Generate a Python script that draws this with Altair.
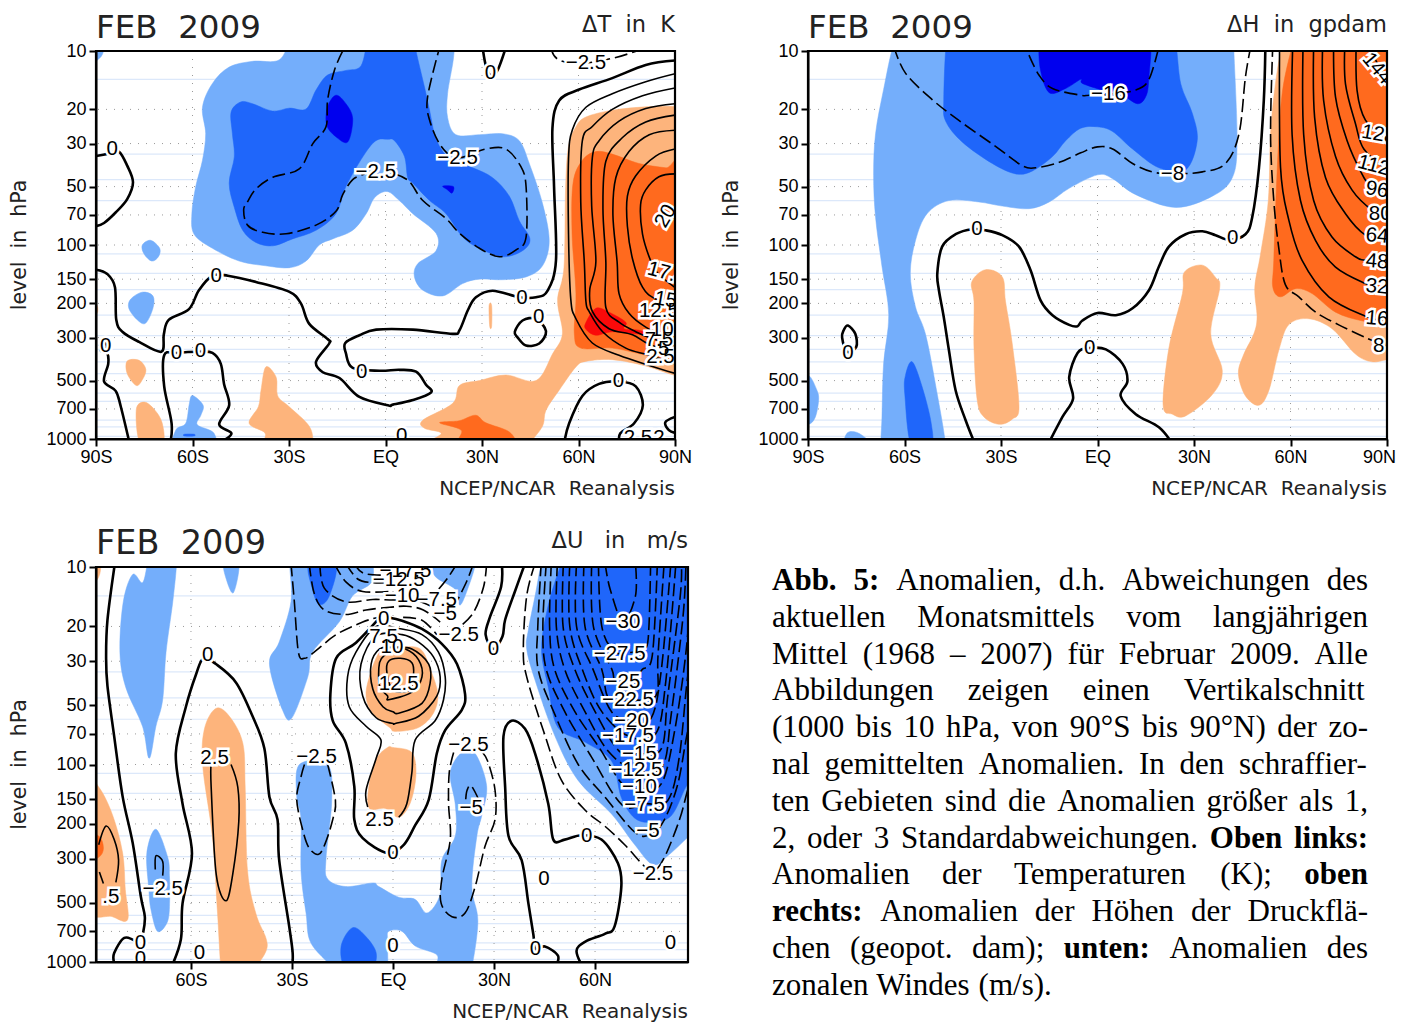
import altair as alt
import pandas as pd

LEVELS = [10, 20, 30, 50, 70, 100, 150, 200, 300, 500, 700, 1000]
PALE_LEVELS = [14, 34, 46, 59, 111, 140, 170, 230, 293, 345, 400, 460, 580, 640, 800, 865, 970]
LAT_TICKS = [-90, -60, -30, 0, 30, 60, 90]
LAT_TICKS_U = [-60, -30, 0, 30, 60]
LB, MB, DB = "#74AEFB", "#1F66FA", "#0000EE"
LO, MO, RD = "#FDB47C", "#FF6A1E", "#FA0A0A"

# ---------- Delta T ----------
T_LB = [
 [(-29.5,8.5),(-33,11.1),(-41.3,11.3),(-48.6,12.1),(-53.8,14.7),(-56.9,19.5),(-55.9,26.7),(-56.9,36.6),(-59,50),(-60.2,69),(-59.5,88),(-53.8,104),(-45.5,121),(-37.2,128),(-29.9,131),(-24.7,121),(-20.6,100),(-16.4,93),(-10.2,84),(-6,69),(-3.4,57),(0.5,53),(4.3,59),(8.5,69),(15.7,87),(15.7,107),(10,125),(9,146),(11.6,171),(17.8,183),(24,158),(29.2,150),(36.4,151),(43.7,146),(48.8,128),(50.9,95),(48.8,61),(44.7,38),(41.6,29),(36.4,26.7),(29.2,27),(21.9,27),(19.3,22),(19.3,16.6),(21.1,11),(21.4,8.5),(20,7.8),(-28,7.8)],
 [(-73,94.6),(-70.2,104),(-70.6,115),(-72.7,121),(-75.1,111),(-75.6,100)],
 [(-75.6,175),(-72.3,183),(-72.3,212),(-74.6,253),(-77.2,243),(-79.8,212),(-79.2,190)],
 [(-60,597),(-56.7,670),(-57.4,755),(-58.5,845),(-53.3,935),(-53.8,1150),(-65.7,1150),(-65.2,900),(-62.1,830),(-61,660)],
 [(-92,9),(-87.6,9),(-88,10.4),(-90,11.3),(-92,12)],
]
T_MB = [
 [(-5.5,8.5),(-7.6,11.9),(-12.3,12.6),(-18,13.3),(-21.6,15.9),(-24.7,19.9),(-29.9,19.7),(-35.1,20.4),(-41.3,18.7),(-45,18.3),(-48,20.6),(-47.6,26.7),(-47,35),(-48.6,48),(-47,64),(-44.4,84),(-40.3,97),(-35,101),(-28.9,93),(-21.6,84),(-15.4,69),(-12.3,50),(-7,35),(-3,29),(0.7,28.5),(2.8,29),(5.9,35),(6.9,45),(8.5,48),(13.7,59),(18.8,69),(24,91),(29.2,104),(36.4,115),(42.6,107),(44.9,93),(41.6,75),(38.5,56),(33.3,45),(27.1,40),(20.9,37),(17.3,32),(15.2,26.7),(13.7,20.2),(12.1,15.3),(9.5,10),(9,8.5),(8,7.8),(-4.5,7.8)],
 [(-62.5,945),(-59.5,945),(-59.5,965),(-62.5,965)],
]
T_DB = [
 [(-15.4,16.9),(-12.3,18.7),(-10.2,22.3),(-11.7,29.4),(-15.4,27.7),(-18.3,24.1),(-18,19.4)],
 [(17.8,49.7),(21.1,50),(20.7,54),(19.3,52)],
]
T_LO = [
 [(-80.3,396),(-76.6,393),(-74.5,438),(-75.6,495),(-77.5,530),(-80.3,460)],
 [(-75.1,645),(-72,700),(-69.4,830),(-69.4,1060),(-76.1,1060),(-77.5,710)],
 [(-37.2,425),(-34,480),(-33.5,600),(-30,680),(-23.7,860),(-22.6,1060),(-24,1200),(-36.5,1200),(-38,1060),(-37.5,930),(-42.4,830),(-39.5,680),(-38.7,560)],
 [(100,19.5),(90,19.3),(80.9,19.4),(70.5,20.2),(62.3,21.9),(59.2,24.6),(56.9,31),(56,50),(55.5,130),(53.5,193),(55,287),(51.9,365),(46.8,500),(37.4,468),(29.2,500),(23,530),(20.9,655),(11.6,800),(12.1,880),(17.3,935),(12.6,1060),(14,1200),(43,1200),(44.7,1060),(48.8,860),(49.9,710),(54,560),(59.2,425),(62.3,398),(70.5,390),(80.9,420),(90,470),(100,500)],
 [(32.2,205),(33,205),(33,262),(32.4,262)],
 [(-92,195),(-89.7,205),(-89.7,225),(-92,235)],
]
T_MO = [
 [(93.3,41),(87.1,40),(78.8,38),(70.5,34),(65.4,33),(61.2,36.6),(58.3,48),(58,88),(59.2,178),(58.7,287),(60.7,340),(70.5,340),(80.9,370),(90,398),(93.3,413)],
 [(16.8,825),(22.9,805),(28,754),(31.2,825),(38.5,920),(39,1060),(23.5,1060),(23.5,900)],
]
T_RD = [[(62.3,251),(65.4,212),(69.5,222),(74.7,250),(74.2,270),(78.8,275),(82.4,290),(78.8,288),(70.5,280),(65.4,292),(62.3,272)]]
T_ZERO = [
 [(-90,34.8),(-86,33.8),(-82.9,33),(-80.3,39),(-78.5,47.5),(-80.3,58),(-83.9,68),(-87.5,77),(-90,80)],
 [(-90,134),(-86.5,141),(-84.1,165),(-83.7,243),(-81.8,280),(-76.6,316),(-69.7,355),(-68.9,288),(-67.4,243),(-61.1,214),(-58,171),(-53.8,144),(-49,144),(-40.3,155),(-30,174),(-26.3,200),(-23.7,255),(-18,305),(-17.5,322),(-21.6,400),(-19.5,453),(-14.3,485),(-8.1,607),(0.7,670),(2.3,665),(8.5,630),(14.2,575),(12.6,525),(9.5,450),(4.3,440),(-1.9,445),(-10.2,430),(-12.3,362),(-12.5,320),(-8.1,292),(-2.9,273),(8.5,273),(20.9,287),(23,275),(25.6,217),(28.1,186),(33.3,172),(41.6,186),(46.8,186),(50.4,172),(53,120),(52.4,50),(51.9,25),(54,18),(60.2,15.8),(70.5,13.8),(80.9,11.8),(90,11.2)],
 [(-89,325),(-86.5,360),(-86.2,410),(-87.5,505),(-83.9,565),(-82.3,680),(-79.4,1080)],
 [(-67,1060),(-66.5,830),(-68.8,535),(-68.8,370),(-65,360),(-58,355),(-53.8,360),(-51.2,410),(-50.2,520),(-48.6,670),(-51.7,840),(-47.9,935),(-51,1030)],
 [(30.2,9.6),(31.2,11.9),(32.8,13.4),(34.9,12.5),(37.4,9.6)],
 [(55.5,1060),(57.1,830),(61.2,600),(66.4,520),(72.6,505),(77.8,535),(80,670),(77.3,830),(73,935),(72.8,1060)],
 [(90,770),(87,820),(88.1,900),(90,930)],
]
T_ZERO_CLOSED = [[(40.2,280),(42.6,245),(46.8,240),(49.9,278),(47.8,322),(43.7,330),(41.1,300)],
                 [(-88.3,315),(-86.8,325),(-87,345),(-88.5,350)]]
T_THIN = [
 [(90,13.1),(80.9,14.4),(70.5,16.6),(62.3,19.5),(58.1,25.5),(56.9,36),(56.9,88),(57.6,190),(59.2,240),(64.3,320),(72.6,370),(82.5,420),(92,470)],
 [(90,15.5),(79.9,17),(70.5,20),(64.3,24.5),(61.2,29),(60.7,60),(61.8,122),(62.3,195),(63.3,220),(67.5,280),(74.7,340),(82,370),(92,420)],
 [(90,18.7),(80.9,19.8),(72.6,23),(66.4,29),(64.3,35.5),(64.1,63),(65.4,122),(63.5,170),(64.3,220),(69.5,270),(76.8,290),(82,325),(92,370)],
 [(90,21.4),(80.9,23.2),(73.6,28),(68.5,37),(67.6,65),(68.5,122),(68.5,210),(72.6,250),(77.8,280),(82,300),(92,340)],
 [(90,25.6),(82,27),(75.7,33),(71.6,45),(70.7,70),(72,122),(72.6,178),(75.7,225),(80.9,265),(92,330)],
 [(90,32),(84,34.8),(77.8,44),(75.2,56),(75.2,80),(76.8,118),(79.9,165),(84,190),(92,215)],
 [(90,43),(85,44.5),(80.9,52),(79.3,62),(79.9,88),(82.4,120),(85,142),(92,175)],
]
T_DASH = [
 [(-13.3,10),(-15.9,12.6),(-18,17.9),(-18.5,24.6),(-22.6,30),(-26.8,40.5),(-35,44.7),(-40.3,51.5),(-42.9,60),(-44.1,66),(-42.9,79),(-38.2,86),(-30.9,87.5),(-21.6,79),(-15.4,67),(-13.3,55),(-10.2,46),(-6.5,43)],
 [(3,43),(7.4,47),(11.6,59),(18.8,73),(23,87),(29.2,104),(35.4,115),(40.6,106),(43.7,91),(43.7,50),(42.1,39.5),(37.4,32),(31.2,32),(22.4,35.5),(17.3,31),(13.7,22.7),(13.1,17.2),(16.8,9.6)],
 [(51.4,9.6),(53.5,11),(60.2,11.6),(71.6,10.8),(80.9,9.6)],
]
T_LABELS = [
 ("0",-85,32,0),("0",-52.6,144,0),("0",-7.4,450,0),("0",42.4,188,0),("0",-87,330,0),("0",-65,362,0),("0",-57.5,352,0),
 ("0",32.6,13,0),("0",47.6,235,0),("0",72.4,505,0),("0",5,965,0),("\u22122.5",-3,42,0),("\u22122.5",22.4,35.5,0),("\u22122.5",62.3,11.5,0),
 ("2.5",78.5,990,0),("2",85,990,0),("20",87.1,71,300),("17.5",87.5,140,15),("15",87.1,192,10),("10",86,275,0),("7.5",85,310,0),("5",86.5,345,0),("12.5",85,220,0),("2.5",85.5,380,0),
]

# ---------- Delta H ----------
H_LB = [
 [(-63.3,9.2),(-66.5,15.8),(-69,26.7),(-69.6,43.7),(-69,72),(-67,129),(-64.9,229),(-66.5,410),(-67,770),(-67.2,1100),(-65,1250),(-49,1250),(-47.2,1100),(-50.4,520),(-53.5,287),(-56.6,208),(-58.2,140),(-56.6,95),(-53,69),(-46.2,59),(-36.9,60),(-29.6,63),(-21.3,65),(-15,60),(-8.8,51),(0,43.5),(4.7,45.5),(11.9,55),(24.3,64),(35.7,56),(41.9,45),(43.4,29),(42.4,10),(42.4,9.2),(40,8.2),(-60,8.2)],
 [(-93,500),(-89.8,470),(-87.2,562),(-86.7,631),(-87.7,770),(-89.8,840),(-93,800)],
 [(-78.4,1100),(-77.9,935),(-74.8,925),(-71.2,1020),(-71.2,1100)],
]
H_MB = [
 [(-47,9.2),(-47.8,17.9),(-47.2,23),(-42,29.5),(-32.7,38),(-25.4,43),(-20.2,41.5),(-14,35),(-9.9,29),(-5.2,25),(0,24.6),(4.7,26),(10.9,32),(19.1,40),(27.4,41),(31,29),(29.5,21),(25.9,14.8),(24.3,9.2),(22,8.2),(-45,8.2)],
 [(-57.6,400),(-54.5,540),(-51.7,830),(-51.7,1100),(-57.8,1100),(-59.9,590),(-59.7,470)],
]
H_DB = [[(-18.2,9.2),(-17.7,12.6),(-15,16.4),(-9.9,15.6),(-5.2,14),(-4.7,14.7),(1.6,15.9),(6.7,16.4),(12.4,18.7),(15.2,16.9),(16,13.6),(16.6,9.2),(15,8.2),(-17,8.2)]]
H_LO = [
 [(-34.8,134),(-29.6,146),(-28.6,195),(-26.5,323),(-24.4,680),(-26.5,790),(-30.6,840),(-35.3,770),(-37.4,631),(-38.4,340),(-38.4,195),(-39.1,155)],
 [(32.6,127),(36.7,147),(38,166),(35.2,287),(38.8,445),(35.7,590),(27.4,760),(23.3,745),(20.4,670),(22.2,340),(26.4,178),(27,138)],
 [(57.4,9.2),(55.3,14.8),(53.8,26.7),(53.1,59),(50.7,111),(48.9,165),(49.6,235),(48.6,287),(45.5,365),(43.8,460),(46,600),(50.2,670),(53.3,560),(56.4,347),(59.5,257),(65.7,240),(72.9,270),(80.2,365),(85.3,400),(90,390),(94,385),(94,9.2),(92,8.2),(59,8.2)],
]
H_MO = [[(60.7,9.2),(57.4,16.6),(55.9,39.8),(54.8,120),(54.5,165),(56.9,185),(61.6,168),(66.7,178),(74,222),(82.2,246),(90,255),(94,258),(94,9.2),(92,8.2),(62,8.2)]]
H_ZERO = [
 [(-38.1,1060),(-41,800),(-44.1,562),(-46.2,348),(-47.8,235),(-49.3,171),(-49.8,140),(-48.3,102),(-44.1,88),(-38.9,83),(-34.8,84),(-29.6,89),(-24.4,102),(-20.8,135),(-17.7,193),(-14,230),(-8.8,258),(-6.2,262),(-4.7,245),(0,224),(5.7,230),(10.9,212),(16,171),(19.1,129),(22.2,102),(27.4,88),(32.6,85),(36.7,89),(40.9,94),(46,88),(48.1,72),(50.2,40),(51.7,18),(52.2,9.2)],
 [(-15.3,1060),(-10.9,770),(-7.6,620),(-8.8,480),(-6.2,360),(-2.6,340),(2.6,345),(7.8,410),(9.3,505),(7.2,600),(11.9,745),(19.1,870),(23.3,1060)],
]
H_ZERO_CLOSED = [[(-77.6,260),(-75.3,287),(-75,335),(-77.9,355),(-79.4,300),(-78.9,275)]]
H_THIN = [
 [(56.6,9.2),(56.9,39.8),(59.5,74.6),(63.6,120),(71.9,185),(83.3,233),(90,250),(95,260)],
 [(60.7,9.2),(60.5,27),(63.1,59),(67.8,95),(74,130),(83.3,158),(90,171),(95,180)],
 [(63.9,9.2),(64.1,27),(67.2,59),(72.9,91),(80.2,115),(83.3,120),(90,127),(95,135)],
 [(67.2,9.2),(67.5,22),(70.9,45),(77.1,69),(83.3,89),(90,97),(95,103)],
 [(70,9.2),(70.3,18),(74,35),(79.1,52),(85.3,66),(90,71),(95,76)],
 [(73.4,9.2),(74,17.3),(77.6,29),(82.2,43),(84.8,49),(90,55),(95,60)],
 [(76.9,9.2),(77.1,14.8),(80.2,23.7),(82.8,32),(90,41),(95,46)],
 [(80.4,9.2),(80.7,16),(83.3,22.7),(90,29),(95,33)],
 [(83.8,9.2),(90,14),(95,17)],
]
H_DASH = [
 [(54.5,9.2),(53.8,26.7),(54.8,59),(56.4,105),(58.4,160),(62.6,185),(67.8,222),(75,258),(83.3,300),(90.5,335)],
 [(-63.3,9.5),(-59.7,13),(-51.4,17.8),(-43.1,22.8),(-31.7,31),(-23.4,39),(-19.2,40),(-11.9,37.5),(-5.2,33.5),(0,31.2),(4.7,32),(10.9,38),(17.1,42),(23.3,43),(32.6,42),(39.8,38),(44,26.7),(46,13.6),(47.8,9.2)],
 [(-21.3,10.5),(-18.2,13.3),(-14,15.6),(-5.2,16.9),(-2.6,16.9),(3.4,16.7),(11.9,15.9),(16,14),(19.1,9.5)],
]
H_LABELS = [
 ("0",-37.5,83,0),("0",42,92,0),("0",-2.4,340,0),("0",-77.6,362,0),("\u22128",23.3,43,0),("\u221216",3.4,16.7,0),
 ("144",86.9,12.3,50),("128",87.4,27,10),("112",85.9,39,15),("96",86.9,52,10),("80",87.9,69,0),("64",86.9,90,5),("48",86.9,122,5),("32",86.9,164,5),("16",86.9,240,5),("8",87.4,330,0),
]

# ---------- Delta U ----------
U_LB = [
 [(-77.3,10.9),(-74.4,12),(-72.9,9.6),(-72,8.6),(-65,8.6),(-64.3,9.6),(-65.4,15),(-67.4,27),(-68.4,47),(-70.4,64),(-72.4,93),(-74.4,64),(-79.3,41),(-81.1,27),(-80.1,15)],
 [(-50.1,9.6),(-45.8,9.6),(-47.4,13.5),(-49.6,11.4)],
 [(-30.6,9.6),(-29,8.5),(-8,8.5),(-6,9.6),(-6.5,12),(-12,14),(-16,19),(-23.9,27),(-25.3,36),(-30,58),(-32.8,53),(-36.7,31),(-33.8,24),(-30.3,15)],
 [(12,9.6),(13.5,8.5),(23,8.5),(24.4,9.6),(22.4,12.6),(19.9,15.6),(18.5,13),(12.6,11.2)],
 [(-70.4,213),(-66.9,295),(-66.4,365),(-66.3,470),(-66.9,620),(-69.9,700),(-71.9,540),(-72.5,430),(-73.1,280)],
 [(-27.8,100),(-19.4,100),(-18.2,152),(-19.9,300),(-19.4,380),(-14,415),(-6,398),(-4.2,415),(1.7,470),(6.6,482),(10.1,565),(14,455),(14.5,305),(18.5,230),(18.5,160),(17,110),(20.4,87),(24.4,88),(27.8,128),(26.4,180),(24.9,230),(23.4,415),(25.2,620),(23.4,1070),(22,1200),(14,1200),(12.7,1070),(13,920),(6.6,830),(2.7,700),(-1.3,700),(-1.6,790),(-1.6,1070),(-2.5,1200),(-16.5,1200),(-17.9,1070),(-24.4,800),(-25.8,570),(-27.3,350),(-27.3,190),(-28.6,145)],
 [(44.1,9.6),(42.2,14),(40.2,20.8),(39.7,26),(42.2,37.5),(48.1,72),(54.9,120),(64.9,178),(71.8,255),(77.2,322),(81.6,290),(87.6,233),(90.5,210),(92,120),(92,9),(88,8.3),(46,8.3)],
]
U_MB = [
 [(50,9.6),(46.1,15.6),(44.1,26),(46.1,40.5),(49,65),(57,77),(64.9,96),(67.8,147),(71.8,187),(76.7,196),(82.6,182),(87.1,129),(90.5,110),(92,60),(92,9),(88,8.3),(52,8.3)],
 [(-12,670),(-8,745),(-5,900),(-6.5,1070),(-14,1070),(-15.4,830)],
 [(-24.9,9.6),(-17,9.6),(-18.9,14),(-21.9,15.5),(-23.9,13)],
]
U_LO = [
 [(-92,9.6),(-87.2,9.6),(-87.7,11.5),(-92,13)],
 [(-92,115),(-87.4,130),(-83.3,180),(-80.3,280),(-79.5,430),(-78.8,610),(-83.3,590),(-92,500)],
 [(-52.6,52),(-48.6,57),(-44.6,78),(-43.9,130),(-43.2,345),(-40.7,570),(-37.7,760),(-37.7,880),(-40.7,1070),(-42,1200),(-50,1200),(-51.1,1070),(-52.1,570),(-53.6,235),(-56.5,102),(-56,66)],
 [(-3.6,26.5),(-7,36),(-8,45.5),(-6,55),(-1,65),(0.7,68),(7.6,65),(12,55),(13.3,44),(11.1,33),(8.1,26),(2,25.5)],
 [(-1.6,82),(0,82),(5.6,87),(6.8,113),(5.1,157),(1.7,185),(-2.3,167),(-7,167),(-7.2,130),(-5,94)],
]
U_MO = [[(-92,225),(-87.4,230),(-86,265),(-87.4,295),(-92,310)]]
U_ZERO = [
 [(-82.6,9.6),(-84.8,18.6),(-85.2,29),(-84.8,40),(-82.8,72),(-80.3,145),(-77.3,250),(-74.9,465),(-73.7,590),(-74.2,710)],
 [(-82.8,1010),(-82.8,900),(-79.8,755),(-76.3,790)],
 [(-65.9,1070),(-63,770),(-62.5,505),(-59.7,282),(-62.5,158),(-64.5,88),(-61.5,51),(-58.5,35),(-56.3,29),(-52.6,31),(-46.6,38.5),(-41.7,57),(-38.2,83),(-36.7,146),(-34.3,190),(-33.8,305),(-30.8,665),(-29.8,900),(-30,1070)],
 [(-4.6,18.6),(-11,24.2),(-16.9,29),(-18.6,44),(-17.9,60),(-14,78),(-11.5,129),(-11.5,190),(-9,236),(-1.6,281),(3.2,255),(6.6,203),(10.6,151),(13,88),(15.5,67),(20.4,53),(21.4,44),(19,31),(14.5,24.5),(8.6,20.6),(2.7,18.7),(-1.3,18)],
 [(48.1,1070),(49,930),(45.1,835),(42.3,860),(41.7,730),(40.2,505),(38.2,305),(34.3,230),(33.3,130),(32.8,72),(35.2,60),(39.2,66),(42.2,88),(46.1,158),(47.6,240),(51,240),(56,228),(61.9,240),(66.8,316),(67.8,415),(65.8,660),(62.9,720),(57,790),(54.5,880),(56.5,1070)],
 [(32.3,9.6),(32.1,12.6),(28.8,17.9),(27.5,22),(29.8,26),(32.5,22.5),(33.3,18.5),(36.2,13.3),(39.2,9.6)],
]
U_THIN = [
 [(-7.5,164),(-8,135),(-5,93),(-3.6,75),(-8,64),(-13,51),(-13.5,36),(-11,27),(-5,20),(1.7,20.5),(8.6,22),(13.5,27),(15.5,36),(15,47),(12.5,60),(6.6,75),(5.6,110),(4.1,158),(1.7,185)],
 [(-70.6,340),(-70.4,290),(-68.4,310),(-68.4,365)],
 [(-54,100),(-54,130),(-52.5,360),(-49.6,490),(-47.6,360),(-45.8,195),(-46.1,130),(-48.1,100)],
 [(-87.4,255),(-85.2,205),(-82.8,240),(-81.5,305),(-82.3,395)],
 [(-87.2,350),(-86,400)],
]
U_THIN_CLOSED = [
 [(-5,22.3),(-9.5,31),(-9,45),(-5,58),(0,62),(0.7,62),(7.6,57),(13,45),(14,36),(12,28.5),(7.6,24),(2.7,22)],
 [(-6.5,31),(-6,41.5),(-3,51),(0,54),(1.7,55),(8.6,49),(11,39),(10.6,31),(5.6,26),(-0.3,25.5),(-4,26)],
 [(-4,30.5),(-4,40),(-1.6,45),(-1.3,47),(5.6,43),(8.6,36),(7.6,29.5),(3.7,26),(-0.3,26),(-2,27.5)],
 [(-1.8,34.5),(-1.3,30),(2.2,29),(5.6,30.5),(6.1,35),(5,42),(0,42)],
]
U_DASH = [
 [(-30.3,9.6),(-29.3,15),(-28.1,27),(-26.3,29),(-23.4,27),(-16.9,22),(-9,19),(-4.6,18)],
 [(3,18),(8.6,18.6),(13,22)],
 [(27.8,9.6),(26.9,12.6),(23.9,17),(19.9,20)],
 [(23.9,9.6),(21.9,11.8),(18.9,15)],
 [(19,9.6),(16.5,11.2),(13.5,13)],
 [(-24.9,9.6),(-23.4,13.6),(-20.4,16.5),(-14,17.4),(-8,16.5),(-1,16),(4,15.8),(9,16.5),(14,19)],
 [(-21.7,9.6),(-20.4,12.8),(-14,15),(-6,14.6),(0,14.7),(6,14.6),(12,16)],
 [(-17.4,9.6),(-14,11.9),(-9,13.3),(-1,13.3)],
 [(-14,9.6),(-10.5,11.5),(-6,12),(-1,12)],
 [(-11.5,9.6),(-8.5,10.8),(-1,11)],
 [(-26.3,100),(-27.3,115),(-28.6,150),(-26.8,215),(-24.9,265),(-22.1,285),(-20.1,250),(-17.9,190),(-17.1,152),(-19.4,100)],
 [(18,87),(16.7,110),(16.5,158),(17,240),(14.5,380),(14.3,505),(17.5,590),(21.4,565),(24.4,415),(27.3,260),(30.3,190),(30.3,135),(28.3,98),(26.6,87)],
 [(21.6,150),(22,135),(23.2,128),(25.4,150)],
 [(42.2,9.6),(39.7,14),(38.7,26),(39.7,36),(45.1,71),(50,120),(57,170),(62.9,205),(68.8,255),(74.2,322),(77,350),(80.4,300),(85,192),(87.5,135),(90,100)],
 [(44,9.6),(43,20),(43.1,33),(48.1,56),(55,100),(62.9,146),(71.8,220),(76.7,226),(80.6,190),(84.6,125),(87.5,68),(90,50)],
 [(45.5,9.6),(44.5,20),(45.5,33),(51,54),(59,92),(68,160),(75,158),(81.6,152),(85,92),(87.5,36),(90,22)],
 [(47,9.6),(46.5,20),(48,33),(54,54),(61.4,83),(68,125),(73.2,133),(79.7,125),(83.6,68),(87.1,26),(89,9.6)],
 [(48.8,9.6),(48.5,20),(51,33),(57,54),(64,86),(72,107),(80,102),(82.6,56),(86.1,18),(87,9.6)],
 [(50.6,9.6),(50.5,20),(54,33),(60,54),(67,85),(73,88),(79.7,83),(81.6,45),(85.3,14),(85.6,9.6)],
 [(52.5,9.6),(52.5,20),(56.5,34),(62,54),(70,72),(78,70),(81,38),(84,9.6)],
 [(54.5,9.6),(54.5,20),(59.4,33),(64.9,54),(71,60),(76.7,58),(79.7,33),(82.5,9.6)],
 [(56.7,9.6),(57,20),(62,33),(64,46),(70,47),(78,45),(78.7,28),(80.5,9.6)],
 [(59,9.6),(59.5,20),(65,33),(66,37),(71.5,37),(74,33),(77,28),(78.5,9.6)],
 [(61,9.6),(62,20),(66,27),(71,27),(75,26),(76,20),(76.5,9.6)],
 [(63,9.6),(64.5,13),(68.3,18.9),(72,14),(72,9.6)],
]
U_LABELS = [
 ("0",-75,800,0),("0",-75,970,0),("0",-55,28,0),("0",-57.5,900,0),("0",0,281,0),("0",57.5,230,0),("0",42.3,860,0),("0",29.8,26,0),
 ("0",44.8,378,0),("0",82.4,800,0),("0",0,830,0),
 ("2.5",-53,93,0),("\u22122.5",-22.7,92,0),(".5",-83.8,470,0),("\u22122.5",-68.4,425,0),("2.5",-4,190,0),("\u22122.5",22.4,80,0),("\u22125",23.2,167,0),
 ("\u221217.5",3.7,10.5,0),("\u221212.5",1.7,11.6,0),("\u221210",2.7,14,0),("\u22127.5",13,14.7,0),("\u22125",15.5,17.2,0),("\u22122.5",19.5,22,0),("7.5",-2.8,22.6,0),("0",-2.8,18.3,0),("10",-0.3,25.5,0),("12.5",1.7,39,0),
 ("\u221230",68.3,18.9,0),("\u221227.5",67.3,27.7,0),("\u221225",68.3,38,0),("\u221222.5",69.8,47,0),("\u221220",70.8,60,0),("\u221217.5",69.8,72,0),("\u221215",73.2,88,0),("\u221212.5",72.3,107,0),("\u221210",73.2,130,0),("\u22127.5",74.7,160,0),("\u22125",75.7,218,0),("\u22122.5",77.2,360,0),
]

CAPTION = [
 "*Abb. *5: Anomalien, d.h. Abweichungen des",
 "aktuellen Monatsmittels vom langjährigen",
 "Mittel (1968 – 2007) für Februar 2009. Alle",
 "Abbildungen zeigen einen Vertikalschnitt",
 "(1000 bis 10 hPa, von 90°S bis 90°N) der zo-",
 "nal gemittelten Anomalien. In den schraffier-",
 "ten Gebieten sind die Anomalien größer als 1,",
 "2, oder 3 Standardabweichungen. *Oben *links:",
 "Anomalien der Temperaturen (K); *oben",
 "*rechts: Anomalien der Höhen der Druckflä-",
 "chen (geopot. dam); *unten: Anomalien des",
 "zonalen Windes (m/s).",
]
ROMAN = dict(zip("abcdefghijklmnopqrstuvwxyz",[444,500,444,500,444,333,500,500,278,278,500,278,778,500,500,500,500,333,389,278,500,500,722,500,500,444]))
ROMAN.update(dict(zip("ABCDEFGHIJKLMNOPQRSTUVWXYZ",[722,667,667,722,611,556,722,722,333,389,722,611,889,722,722,556,722,667,556,611,722,722,944,722,722,611])))
ROMAN.update({".":250,",":250,":":278,";":278,"(":333,")":333,"-":333,"–":500,"/":278,"°":400,"ä":444,"ö":500,"ü":500,"ß":500})
BOLD = dict(ROMAN); BOLD.update(dict(zip("abcdefghijklmnopqrstuvwxyz",[500,556,444,556,444,333,500,556,278,333,556,278,833,556,500,556,556,444,389,333,556,500,722,500,500,444])))
BOLD.update({":":333,"A":722,"O":778})
CAP_SIZE = 31
CAP_WIDTH = 596

def word_w(w, bold):
    t = BOLD if bold else ROMAN
    return sum(t.get(c, 500) for c in w) * CAP_SIZE / 1000

def caption_rows():
    rows = []
    for n, line in enumerate(CAPTION):
        ws = line.split(" ")
        parsed = [(w.lstrip("*"), w.startswith("*")) for w in ws]
        total = sum(word_w(w, b) for w, b in parsed)
        gap = 0.25 * CAP_SIZE if n == len(CAPTION) - 1 else (CAP_WIDTH - total) / (len(parsed) - 1)
        x = 0
        for w, b in parsed:
            rows.append({"word": w, "bold": b, "x": x, "line": n})
            x += word_w(w, b) + gap
    return pd.DataFrame(rows)

def shape_df(shapes):
    rows = []
    for k, s in enumerate(shapes):
        for i, (lat, p) in enumerate(s):
            rows.append({"id": k, "i": i, "lat": lat, "hpa": p})
    return pd.DataFrame(rows, columns=["id", "i", "lat", "hpa"])

def panel(w, h, dom, ticks, title, unit, polys, zero, zero_closed, thin, thin_closed, dash, labels, title_size=32.5, edge_shift=0):
    xs = alt.Scale(domain=dom, nice=False, zero=False)
    ys = alt.Scale(type="log", domain=[10, 1000], reverse=True, nice=False)
    x_kw = {"labelOffset": {"expr": f"datum.value==90?{edge_shift}:0"}} if edge_shift else {}
    xaxis = alt.Axis(values=ticks, title=None, grid=False, tickSize=7, tickWidth=2, domainWidth=2, domainColor="black", tickColor="black",
                     labelFont="Liberation Sans", labelFontSize=18, labelColor="black", labelPadding=2, labelFlush=False, zindex=2,
                     labelExpr="datum.value==0?'EQ':(datum.value<0?(-datum.value)+'S':datum.value+'N')", **x_kw)
    yaxis = alt.Axis(values=LEVELS, title=None, grid=False, tickSize=7, tickWidth=2, domainWidth=2, domainColor="black", tickColor="black",
                     labelFont="Liberation Sans", labelFontSize=18, labelColor="black", labelPadding=3, labelOverlap=False, zindex=2,
                     labelExpr="datum.value")
    X = alt.X("lat:Q", scale=xs, axis=xaxis)
    Y = alt.Y("hpa:Q", scale=ys, axis=yaxis)
    layers = []
    layers.append(alt.Chart(pd.DataFrame({"hpa": PALE_LEVELS})).mark_rule(color="#DCE8FA", strokeWidth=1.2).encode(y=Y))
    layers.append(alt.Chart(pd.DataFrame({"hpa": LEVELS[1:-1]})).mark_rule(color="#9a9a9a", strokeWidth=1, strokeDash=[1, 7]).encode(y=Y))
    layers.append(alt.Chart(pd.DataFrame({"lat": LAT_TICKS_U})).mark_rule(color="#9a9a9a", strokeWidth=1, strokeDash=[1, 7]).encode(x=X))
    for color, shapes in polys:
        if shapes:
            layers.append(alt.Chart(shape_df(shapes)).mark_line(fill=color, stroke=color, strokeWidth=0.5, interpolate="cardinal-closed", clip=True)
                          .encode(x=X, y=Y, order="i:Q", detail="id:N"))
    def lines(shapes, sw, closed=False, dashed=False):
        if not shapes:
            return
        kw = {"strokeDash": [13, 5]} if dashed else {}
        layers.append(alt.Chart(shape_df(shapes)).mark_line(color="black", strokeWidth=sw, interpolate="cardinal-closed" if closed else "cardinal", clip=True, **kw)
                      .encode(x=X, y=Y, order="i:Q", detail="id:N"))
    lines(zero, 2.6)
    lines(zero_closed, 2.6, True)
    lines(thin, 1.6)
    lines(thin_closed, 1.6, True)
    lines(dash, 1.6, False, True)
    ld = pd.DataFrame(labels, columns=["t", "lat", "hpa", "a"])
    tx = dict(x=X, y=Y, text="t:N", angle=alt.Angle("a:Q", scale=None))
    layers.append(alt.Chart(ld).mark_text(font="Liberation Sans", fontSize=20.5, stroke="white", strokeWidth=5, fill="white", clip=True, baseline="middle").encode(**tx))
    layers.append(alt.Chart(ld).mark_text(font="Liberation Sans", fontSize=20.5, color="black", clip=True, baseline="middle").encode(**tx))
    one = pd.DataFrame({"a": [1]})
    layers.append(alt.Chart(one).mark_rect(fillOpacity=0, stroke="black", strokeWidth=2.2).encode(x=alt.value(0), x2=alt.value(w), y=alt.value(0), y2=alt.value(h)))
    layers.append(alt.Chart(pd.DataFrame({"t": [title]})).mark_text(font="DejaVu Sans", fontSize=title_size, align="left", baseline="alphabetic", color="#222").encode(x=alt.value(0), y=alt.value(-13), text="t:N"))
    layers.append(alt.Chart(pd.DataFrame({"t": [unit]})).mark_text(font="DejaVu Sans", fontSize=22.5, align="right", baseline="alphabetic", color="#222").encode(x=alt.value(w), y=alt.value(-19), text="t:N"))
    layers.append(alt.Chart(pd.DataFrame({"t": ["NCEP/NCAR\u00a0\u00a0Reanalysis"]})).mark_text(font="DejaVu Sans", fontSize=20, align="right", baseline="alphabetic", color="#222").encode(x=alt.value(w), y=alt.value(h + 56), text="t:N"))
    layers.append(alt.Chart(pd.DataFrame({"t": ["level\u00a0\u00a0in\u00a0\u00a0hPa"]})).mark_text(font="DejaVu Sans", fontSize=20.5, angle=270, align="center", baseline="middle", color="#222").encode(x=alt.value(-76), y=alt.value(h / 2), text="t:N"))
    return alt.layer(*layers).properties(width=w, height=h)

TITLE = "FEB\u00a0\u00a02009"
p1 = panel(579, 388, [-90, 90], LAT_TICKS, TITLE, "\u0394T\u00a0\u00a0in\u00a0\u00a0K",
           [(LB, T_LB), (LO, T_LO), (MB, T_MB), (MO, T_MO), (DB, T_DB), (RD, T_RD)], T_ZERO, T_ZERO_CLOSED, T_THIN, [], T_DASH, T_LABELS)
p2 = panel(579, 388, [-90, 90], LAT_TICKS, TITLE, "\u0394H\u00a0\u00a0in\u00a0\u00a0gpdam",
           [(LB, H_LB), (LO, H_LO), (MB, H_MB), (MO, H_MO), (DB, H_DB)], H_ZERO, H_ZERO_CLOSED, H_THIN, [], H_DASH, H_LABELS, edge_shift=-8)
p3 = panel(592, 395, [-88.2, 87.6], LAT_TICKS_U, TITLE, "\u0394U\u00a0\u00a0\u00a0in\u00a0\u00a0\u00a0m/s",
           [(LB, U_LB), (LO, U_LO), (MB, U_MB), (MO, U_MO)], U_ZERO, [], U_THIN, U_THIN_CLOSED, U_DASH, U_LABELS, title_size=33.5)

cd = caption_rows()
cx = alt.X("x:Q", scale=alt.Scale(domain=[0, CAP_WIDTH], nice=False, zero=False), axis=None)
cy = alt.Y("line:Q", scale=alt.Scale(domain=[-0.625, 10.11], reverse=True, nice=False, zero=False), axis=None)
cap_n = alt.Chart(cd[~cd.bold]).mark_text(font="Liberation Serif", fontSize=CAP_SIZE, align="left", baseline="alphabetic", color="black").encode(x=cx, y=cy, text="word:N")
cap_b = alt.Chart(cd[cd.bold]).mark_text(font="Liberation Serif", fontSize=CAP_SIZE, fontWeight="bold", align="left", baseline="alphabetic", color="black").encode(x=cx, y=cy, text="word:N")
cap = alt.layer(cap_n, cap_b).properties(width=CAP_WIDTH, height=395)

chart = alt.vconcat(
    alt.hconcat(p1, p2, spacing=133, bounds="flush"),
    alt.hconcat(p3, cap, spacing=84, bounds="flush"),
    spacing=516, bounds="flush",
).properties(padding={"left": 2, "top": 4, "right": 0, "bottom": 0}).configure_view(stroke=None)

chart.save("out.html", embed_options={"renderer": "svg", "actions": False})
